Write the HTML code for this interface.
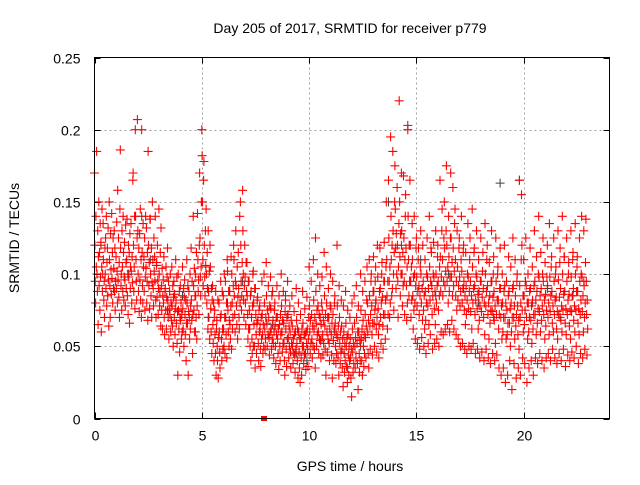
<!DOCTYPE html>
<html><head><meta charset="utf-8"><style>
body{margin:0;background:#fff}
svg text{font-family:"Liberation Sans",sans-serif;font-size:14px;fill:#000}
</style></head><body>
<svg id="chart" width="640" height="480" xmlns="http://www.w3.org/2000/svg">
<rect width="640" height="480" fill="#fff"/>
<text x="350" y="33" text-anchor="middle">Day 205 of 2017, SRMTID for receiver p779</text>
<text transform="translate(19,238) rotate(-90)" text-anchor="middle">SRMTID / TECUs</text>
<text x="350" y="471" text-anchor="middle">GPS time / hours</text>
<g id="grid"></g><g id="ticks"></g><g id="pts"></g>
<rect x="94.5" y="57.5" width="515" height="361" fill="none" stroke="#000" stroke-width="1"/>
</svg>
<script>
const xTicks=[0,5,10,15,20];
const yTicks=[0,0.05,0.1,0.15,0.2,0.25];
const yTickLabels=["0","0.05","0.1","0.15","0.2","0.25"];
// rows: [hour, values in thousandths of TECU]
const redRows=[
[0.0,170,120,95,80,140,105],[0.1,185,100,88,130,65,112],[0.2,150,92,115,75,135,98],[0.3,122,60,105,145,88,100],[0.4,135,110,82,95,70,118],[0.5,100,125,90,140,78,108],[0.6,118,85,132,96,64,150],[0.7,110,92,70,128,103,86],[0.8,142,97,115,80,125,90],[0.9,104,130,88,118,75,95],
[1.0,112,90,136,102,80,158],[1.1,96,125,84,108,70,145],[1.2,186,118,92,100,75,130],[1.3,105,88,140,115,82,98],[1.4,122,96,78,134,108,90],[1.5,110,138,85,100,72,120],[1.6,98,115,66,128,90,105],[1.7,135,102,80,112,94,165],[1.8,170,120,88,105,140,76],[1.9,200,140,110,95,82,125],
[2.0,207,130,100,88,118,74],[2.1,128,96,145,82,110,70],[2.2,200,115,92,80,135,105],[2.3,112,88,125,75,98,140],[2.4,104,132,80,95,115,68],[2.5,185,120,92,108,76,138],[2.6,138,100,85,118,70,94],[2.7,150,110,90,78,125,102],[2.8,112,95,140,82,70,106],[2.9,108,84,120,96,72,90],
[3.0,145,100,78,88,115,64],[3.1,132,92,75,104,62,85],[3.2,96,80,112,70,58,88],[3.3,90,75,105,62,84,98],[3.4,118,82,70,95,55,76],[3.5,88,72,100,60,80,68],[3.6,105,78,64,92,50,84],[3.7,95,70,86,58,76,110],[3.8,82,66,98,52,74,30],[3.9,100,75,62,88,46,70],
[4.0,92,68,80,55,72,60],[4.1,105,76,62,90,50,84],[4.2,96,72,58,82,40,66],[4.3,110,80,66,92,30,74],[4.4,88,70,55,100,62,78],[4.5,118,82,68,95,45,72],[4.6,140,92,75,104,60,85],[4.7,100,85,70,115,55,78],[4.8,142,110,88,96,72,120],[4.9,170,125,98,85,105,150],
[5.0,200,182,150,110,92,165],[5.1,178,120,98,85,130,106],[5.2,145,100,80,115,90,62],[5.3,130,88,70,102,55,120],[5.4,105,76,60,90,45,82],[5.5,92,65,52,80,40,70],[5.6,75,58,45,88,30,62],[5.7,68,50,40,82,28,56],[5.8,80,60,46,35,70,95],[5.9,72,55,40,88,62,48],
[6.0,85,62,50,100,70,45],[6.1,95,70,58,80,42,110],[6.2,102,75,60,88,50,68],[6.3,88,65,55,78,112,48],[6.4,100,80,62,70,92,120],[6.5,110,85,72,60,95,130],[6.6,92,78,65,105,55,84],[6.7,115,90,70,62,140,80],[6.8,150,120,95,75,85,108],[6.9,158,130,100,82,70,92],
[7.0,120,98,80,65,108,88],[7.1,108,85,72,55,95,62],[7.2,95,75,62,50,85,40],[7.3,88,70,55,45,78,100],[7.4,102,80,65,50,90,35],[7.5,90,72,58,45,66,82],[7.6,84,68,52,40,75,60],[7.7,78,62,48,36,70,55],[7.8,95,72,58,45,65,50],[7.9,100,80,62,48,55,70],
[8.0,108,85,66,50,75,58],[8.1,92,70,56,44,78,60],[8.2,98,76,62,48,85,55],[8.3,88,68,52,42,60,75],[8.4,80,64,50,38,70,58],[8.5,92,70,55,45,62,34],[8.6,85,65,50,40,72,58],[8.7,100,78,60,46,68,52],[8.8,88,66,52,40,30,74],[8.9,82,62,48,36,70,55],
[9.0,95,72,56,42,64,50],[9.1,78,60,46,35,68,52],[9.2,85,64,50,38,55,45],[9.3,74,58,44,32,60,48],[9.4,90,68,52,40,62,28],[9.5,80,60,46,35,55,25],[9.6,72,56,42,30,62,50],[9.7,88,66,50,38,58,44],[9.8,76,58,45,34,60,52],[9.9,84,62,48,36,55,70],
[10.0,105,78,60,45,68,52],[10.1,95,72,55,42,64,50],[10.2,110,82,62,48,70,35],[10.3,125,88,66,50,75,58],[10.4,100,78,60,45,72,55],[10.5,92,70,54,42,65,80],[10.6,98,75,58,44,68,52],[10.7,115,85,64,48,72,30],[10.8,105,80,60,46,70,55],[10.9,90,70,52,40,62,78],
[11.0,100,76,58,44,66,28],[11.1,95,72,54,40,62,80],[11.2,85,66,50,38,58,45],[11.3,120,78,56,42,64,30],[11.4,92,70,52,38,60,46],[11.5,82,64,48,35,55,22],[11.6,78,60,45,32,52,40],[11.7,88,66,50,36,56,25],[11.8,75,58,44,30,50,40],[11.9,70,55,42,28,48,15],
[12.0,80,62,46,32,52,38],[12.1,85,66,50,35,56,42],[12.2,92,70,52,38,60,20],[12.3,78,60,45,32,54,40],[12.4,100,75,55,40,62,30],[12.5,88,68,50,36,58,45],[12.6,95,72,56,42,64,82],[12.7,105,80,60,45,68,35],[12.8,110,85,64,48,72,95],[12.9,100,78,58,44,66,88],
[13.0,112,88,66,50,75,95],[13.1,105,82,62,46,70,120],[13.2,98,76,58,42,65,88],[13.3,118,90,70,52,80,100],[13.4,108,84,64,48,72,95],[13.5,122,95,72,55,82,105],[13.6,150,110,85,62,95,72],[13.7,165,125,95,70,105,80],[13.8,195,140,110,85,120,90],[13.9,185,130,100,75,115,150],
[14.0,175,145,118,90,128,100],[14.1,160,120,95,70,105,135],[14.2,220,150,112,85,128,100],[14.3,170,130,100,78,115,92],[14.4,168,125,95,72,110,140],[14.5,155,118,92,68,105,80],[14.6,200,140,110,85,120,95],[14.7,165,120,95,70,105,82],[14.8,135,110,85,62,98,75],[14.9,140,100,80,55,92,118],
[15.0,125,98,78,52,88,110],[15.1,118,92,72,48,85,105],[15.2,130,100,80,56,90,68],[15.3,120,95,75,50,85,62],[15.4,110,88,68,45,80,100],[15.5,125,98,78,52,90,65],[15.6,140,105,82,58,95,118],[15.7,115,92,72,48,85,100],[15.8,122,98,76,52,88,65],[15.9,130,100,80,55,92,112],
[16.0,120,95,75,50,85,105],[16.1,165,112,88,60,98,130],[16.2,145,110,85,58,95,125],[16.3,150,118,92,62,102,130],[16.4,175,120,95,65,105,80],[16.5,140,112,88,60,98,125],[16.6,170,125,98,68,108,85],[16.7,160,118,92,62,102,135],[16.8,145,110,85,58,95,75],[16.9,130,105,82,55,92,118],
[17.0,125,98,78,50,88,110],[17.1,140,102,80,52,90,115],[17.2,120,95,75,48,85,65],[17.3,115,92,72,45,82,100],[17.4,135,98,76,50,88,110],[17.5,125,95,74,48,85,62],[17.6,145,105,80,52,90,115],[17.7,118,92,72,45,82,100],[17.8,130,98,76,48,86,62],[17.9,110,88,68,42,78,95],
[18.0,125,95,74,46,84,102],[18.1,115,90,70,40,80,58],[18.2,135,100,78,48,88,110],[18.3,120,92,72,42,80,55],[18.4,108,85,66,38,75,95],[18.5,130,95,74,45,84,100],[18.6,112,88,68,40,78,52],[18.7,125,95,72,44,82,100],[18.8,105,82,62,35,72,90],[18.9,118,90,70,30,78,55],
[19.0,100,80,60,35,70,88],[19.1,120,92,70,25,80,55],[19.2,95,75,58,30,66,85],[19.3,112,88,66,40,76,50],[19.4,105,80,60,20,70,90],[19.5,125,92,70,38,78,55],[19.6,110,85,64,28,72,95],[19.7,100,78,58,35,68,48],[19.8,165,92,70,30,80,110],[19.9,155,120,75,42,85,60],
[20.0,110,85,65,38,75,95],[20.1,125,92,70,25,80,55],[20.2,100,80,60,35,70,88],[20.3,118,90,68,40,78,52],[20.4,105,82,62,30,72,92],[20.5,130,95,72,42,82,58],[20.6,112,88,66,38,76,100],[20.7,140,98,74,45,85,60],[20.8,115,90,68,40,78,100],[20.9,125,95,72,35,82,55],
[21.0,108,86,64,42,75,98],[21.1,120,92,70,45,80,58],[21.2,135,98,74,40,85,105],[21.3,112,88,66,48,78,60],[21.4,125,95,72,42,82,100],[21.5,105,84,62,38,74,55],[21.6,130,96,72,45,84,108],[21.7,118,90,68,40,78,60],[21.8,140,100,75,48,86,112],[21.9,112,88,66,36,76,58],
[22.0,125,95,72,44,82,100],[22.1,108,86,64,40,75,55],[22.2,130,98,74,46,85,110],[22.3,115,90,68,42,78,60],[22.4,135,100,75,50,88,105],[22.5,112,88,66,38,76,58],[22.6,125,95,72,45,82,100],[22.7,140,98,74,42,85,60],[22.8,130,92,70,48,80,108],[22.9,138,95,72,44,82,62]
];
const blackHours=[0.3,0.9,1.6,2.2,2.6,3.4,4.1,4.7,5.3,6.2,6.9,7.4,8.3,8.9,9.4,9.9,10.6,11.2,11.8,12.4,13.1,13.7,14.3,14.6,15.2,15.9,16.5,17.2,17.9,18.6,18.9,19.8,20.4,21.1,21.7,22.3,22.8];
const blackValues=[0.120,0.090,0.100,0.140,0.110,0.075,0.085,0.060,0.070,0.080,0.095,0.050,0.065,0.085,0.045,0.040,0.055,0.060,0.035,0.050,0.080,0.150,0.120,0.203,0.110,0.085,0.100,0.090,0.080,0.070,0.163,0.165,0.080,0.090,0.070,0.085,0.095];
const zeroHours=[7.88];
const xMin=0,xMax=24,yMin=0,yMax=0.25;
const L=94.5,R=609.5,T=57.5,B=418.5;
const sx=v=>L+(v-xMin)/(xMax-xMin)*(R-L);
const sy=v=>B-(v-yMin)/(yMax-yMin)*(B-T);
const px=v=>Math.round(v)+0.5;
const NS="http://www.w3.org/2000/svg";
const grid=document.getElementById('grid'),ticks=document.getElementById('ticks'),pts=document.getElementById('pts');
function mk(tag,attrs,parent){const e=document.createElementNS(NS,tag);for(const k in attrs)e.setAttribute(k,attrs[k]);parent.appendChild(e);return e;}
xTicks.forEach(t=>{const x=px(sx(t));
 if(t>xMin){const g=mk('line',{x1:x,x2:x,y1:T,y2:B,stroke:'#a0a0a0','stroke-dasharray':'2,3'},grid);
 
 }
 const tk=mk('path',{d:`M${x},${B}v-6M${x},${T}v6`,stroke:'#000'},ticks);
 
 
 const lb=mk('text',{x:x,y:B+22,'text-anchor':'middle'},ticks);lb.textContent=String(t);
 
 
});
yTicks.forEach((t,i)=>{const y=px(sy(t));
 if(t>yMin&&t<yMax){const g=mk('line',{x1:L,x2:R,y1:y,y2:y,stroke:'#a0a0a0','stroke-dasharray':'2,3'},grid);
 
 }
 const tk=mk('path',{d:`M${L},${y}h6M${R},${y}h-6`,stroke:'#000'},ticks);
 
 
 const lb=mk('text',{x:L-14,y:y+5,'text-anchor':'end'},ticks);lb.textContent=yTickLabels[i];
 
 
});
let db='';
blackHours.forEach((h,i)=>{const x=sx(h),y=sy(blackValues[i]);db+=`M${(x-4.5).toFixed(1)},${y.toFixed(1)}h9M${x.toFixed(1)},${(y-4.5).toFixed(1)}v9`;});
const blk=mk('path',{d:db,stroke:'#404040','stroke-width':1,fill:'none'},pts);


let d='';
redRows.forEach(r=>{const h=r[0];for(let j=1;j<r.length;j++){const x=sx(h+(j-1)*0.1/6),y=sy(r[j]/1000);d+=`M${(x-4.5).toFixed(1)},${y.toFixed(1)}h9M${x.toFixed(1)},${(y-4.5).toFixed(1)}v9`;}});
const red=mk('path',{d:d,stroke:'#ff0000','stroke-width':1.1,fill:'none'},pts);


zeroHours.forEach(h=>{const s=mk('rect',{x:Math.round(sx(h))-3,y:Math.round(sy(0))-3,width:6,height:5,fill:'#ff0000'},pts);
 
 });
</script>
</body></html>
